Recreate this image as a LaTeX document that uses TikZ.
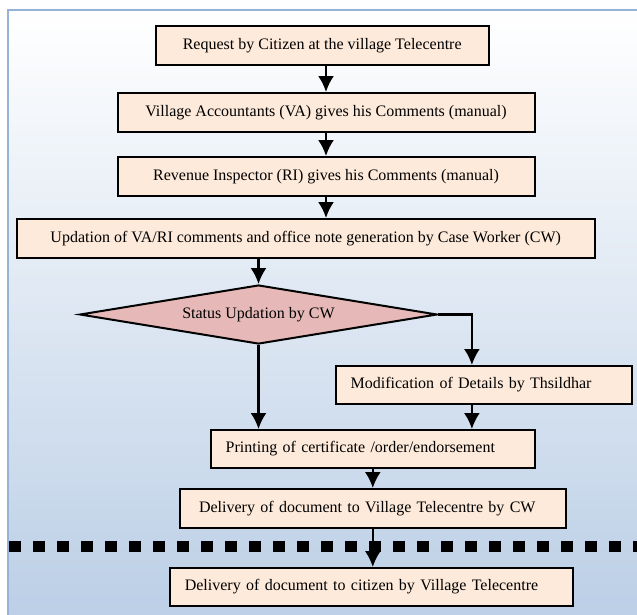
\documentclass[tikz,border=0pt]{standalone}
\usepackage{fontspec}
\setmainfont{Liberation Serif}
\usetikzlibrary{shapes.geometric,arrows.meta}
\definecolor{boxfill}{HTML}{FDEADA}
\definecolor{decfill}{HTML}{E6B9B8}
\definecolor{bgblue}{HTML}{B9CDE5}
\definecolor{framec}{HTML}{95B3D7}

\begin{document}
\begin{tikzpicture}[>={Latex[length=16pt,width=16pt]},x=1pt,y=-1pt,
    box/.style={draw,line width=2pt,fill=boxfill,minimum height=39pt,inner sep=0pt,font=\fontsize{16}{19}\selectfont},
    lbox/.style={box,align=left,inner xsep=15pt},
    link/.style={line width=2.2pt,->}]
      \useasboundingbox (0,0) rectangle (637,614);
      \fill[top color=white,bottom color=bgblue] (8,10) rectangle (660,640);
      \draw[framec,line width=2.5pt] (8,640) -- (8,10) -- (660,10);

      \node[box,minimum width=333pt] (req) at (322.2,45.5) {Request by Citizen at the village Telecentre};
      \node[box,minimum width=417pt] (va) at (326,112.5) {Village Accountants (VA) gives his Comments (manual)};
      \node[box,minimum width=417pt] (ri) at (326,176.5) {Revenue Inspector (RI) gives his Comments (manual)};
      \node[box,minimum width=578pt] (cw) at (305.7,238.5) {Updation of VA/RI comments and office note generation by Case Worker (CW)};
      \node[box,diamond,aspect=6.06,fill=decfill,minimum width=357.5pt,minimum height=59pt] (stat) at (258.5,314.5) {Status Updation by CW};
      \node[lbox,text width=266.5pt,minimum height=38pt] (mod) at (483.9,385) {Modification of Details by Thsildhar};
      \node[lbox,text width=294pt,minimum height=38pt] (prt) at (372.7,449) {Printing of certificate /order/endorsement};
      \node[lbox,inner xsep=19pt,text width=347.5pt] (dvc) at (372.8,508.5) {Delivery of document to Village Telecentre by CW};
      \node[lbox,text width=373pt,minimum height=38pt] (dcz) at (371.3,587) {Delivery of document to citizen by Village Telecentre};

      \draw[line width=11pt,dash pattern=on 12pt off 12pt] (9.3,546) -- (640,546);

      \draw[link] (req.south -| va.north) -- (va.north);
      \draw[link] (va.south) -- (ri.north);
      \draw[link] (ri.south) -- (ri.south |- cw.north);
      \draw[link] (stat.north |- cw.south) -- (stat.north);
      \draw[link] (stat.east) -| ([xshift=-12pt]mod.north);
      \draw[link] (stat.south) -- (stat.south |- prt.north);
      \draw[link] ([xshift=-12pt]mod.south) -- ([xshift=-12pt]mod.south |- prt.north);
      \draw[link] (prt.south -| dvc.north) -- (dvc.north);
      \draw[link] (dvc.south) -- (dvc.south |- dcz.north);
    \end{tikzpicture}
\end{document}
